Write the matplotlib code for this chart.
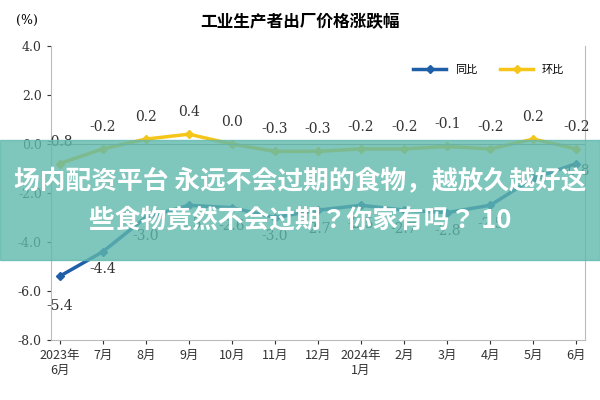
import matplotlib
matplotlib.use("Agg")
import matplotlib.pyplot as plt
from matplotlib.patches import Rectangle
from matplotlib import font_manager

months = ["2023年\n6月","7月","8月","9月","10月","11月","12月","2024年\n1月","2月","3月","4月","5月","6月"]
yoy = [-5.4,-4.4,-3.0,-2.5,-2.6,-3.0,-2.7,-2.5,-2.7,-2.8,-2.5,-1.4,-0.8]
mom = [-0.8,-0.2,0.2,0.4,0.0,-0.3,-0.3,-0.2,-0.2,-0.1,-0.2,0.2,-0.2]
yticks = [4.0,2.0,0.0,-2.0,-4.0,-6.0,-8.0]

names = {f.name for f in font_manager.fontManager.ttflist}
cjk = next((n for n in ["Noto Sans CJK SC","Noto Sans CJK JP","Noto Sans CJK TC","Noto Sans CJK KR","Noto Sans SC"] if n in names), None)
if cjk is None:
    cjk = next((n for n in names if "CJK" in n), "DejaVu Sans")
plt.rcParams["font.family"] = [cjk, "DejaVu Sans"]

fig = plt.figure(figsize=(6,4), dpi=100)
ax = fig.add_axes([0.085, 0.15, 0.89, 0.735])
x = list(range(len(months)))
ax.plot(x, yoy, color="#1f5fa8", lw=2.5, marker="D", ms=4, label="同比")
ax.plot(x, mom, color="#f5c518", lw=2.5, marker="D", ms=4, label="环比")
ax.set_ylim(-8, 4)
ax.set_xlim(-0.2, 12.2)
ax.set_yticks(yticks)
ax.set_yticklabels([f"{v:.1f}" for v in yticks], fontfamily="DejaVu Serif", fontsize=9)
ax.set_xticks(x)
ax.set_xticklabels(months, fontsize=9)
ax.axhline(0, color="#999999", lw=0.8)
ax.spines["top"].set_visible(False)
for s in ["left","right","bottom"]:
    ax.spines[s].set_color("#bbbbbb")
ax.tick_params(length=3, colors="#333333")
lbl = dict(ha="center", va="center", fontsize=10, fontfamily="DejaVu Serif", color="#333")
for i,(a,b) in enumerate(zip(yoy, mom)):
    ax.text(i, b+0.9, f"{b:.1f}", **lbl)
    if i == 0: ax.text(i, a-1.2, f"{a:.1f}", **lbl)
    elif i == 1: ax.text(i, a-0.7, f"{a:.1f}", **lbl)
    elif i == 11: ax.text(i, a+0.0, f"{a:.1f}", **lbl)
    elif i == 12: ax.text(i, a-0.3, f"{a:.1f}", **lbl)
    else: ax.text(i, a-0.75, f"{a:.1f}", **lbl)
ax.legend(loc="upper right", bbox_to_anchor=(0.98, 0.97), ncol=2, frameon=False, prop={"size": 8}, handlelength=3)
fig.text(0.5, 0.945, "工业生产者出厂价格涨跌幅", ha="center", va="center", fontsize=12, fontweight="bold")
fig.text(0.045, 0.95, "(%)", ha="center", va="center", fontsize=9, fontfamily="DejaVu Serif")
fig.patches.append(Rectangle((0, 0.35), 1, 0.30, transform=fig.transFigure, color="#5fb8ad", alpha=0.8, zorder=5))
fig.text(0.5, 0.545, "场内配资平台 永远不会过期的食物，越放久越好这", ha="center", va="center", fontsize=18.5, fontweight="bold", color="white", zorder=6)
fig.text(0.5, 0.45, "些食物竟然不会过期？你家有吗？ 10", ha="center", va="center", fontsize=18.5, fontweight="bold", color="white", zorder=6)
fig.savefig("out.png", dpi=100)
